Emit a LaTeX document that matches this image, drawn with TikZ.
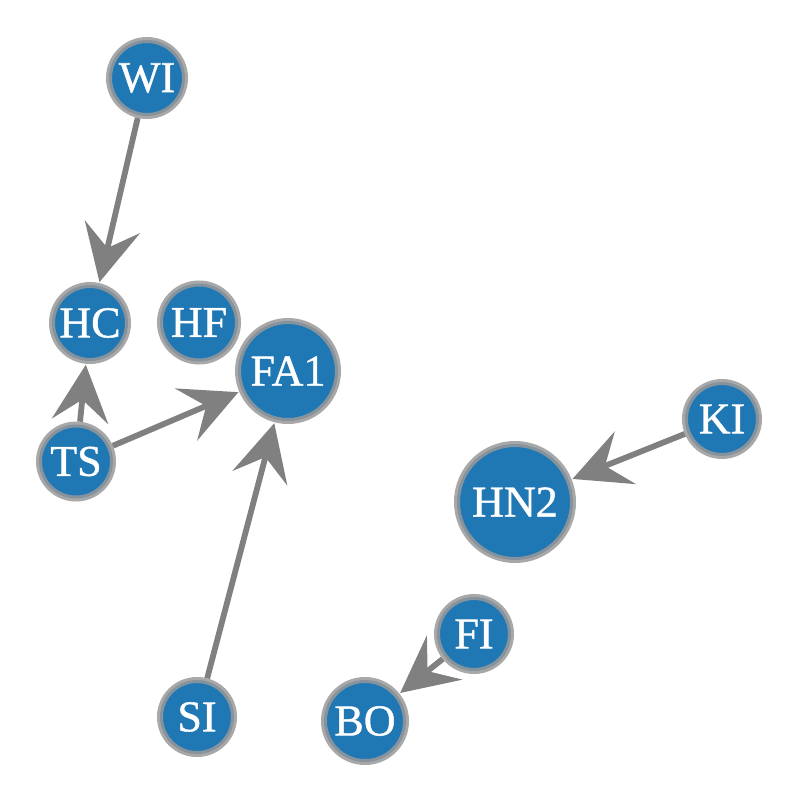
\documentclass[tikz,border=0pt]{standalone}
\usepackage{fontspec}
\setmainfont{Liberation Serif}
\newfontfamily\vtxfont[FakeBold=1.2]{Liberation Serif}
\usetikzlibrary{arrows.meta}
\definecolor{nodeblue}{HTML}{1F77B4}
\definecolor{ringgray}{HTML}{999999}
\definecolor{edgegray}{HTML}{808080}
\pgfdeclarelayer{bg}
\pgfsetlayers{bg,main}
\begin{document}
\begin{tikzpicture}[x=1pt,y=-1pt,
  vtx/.style={circle, fill=nodeblue, draw=ringgray, draw opacity=0.85, line width=6pt,
    text=white, font=\vtxfont\fontsize{44}{44}\selectfont, inner sep=0pt, minimum size=#1},
  link/.style={draw=edgegray, line width=5.8pt,
    -{Stealth[length=57pt,width=57pt,inset=22pt,line width=0pt]}, shorten >=1pt}]
\useasboundingbox (0,0) rectangle (798,800);
\node[vtx=76]  (WI)  at (147,78)    {WI};
\node[vtx=76]  (HC)  at (90,323)    {HC};
\node[vtx=78]  (HF)  at (199,322.5) {HF};
\node[vtx=100] (FA1) at (288,371)   {FA1};
\node[vtx=74]  (TS)  at (76,461.5)  {TS};
\node[vtx=74]  (KI)  at (722,419)   {KI};
\node[vtx=116] (HN2) at (515,502)   {HN2};
\node[vtx=74]  (FI)  at (474,634)   {FI};
\node[vtx=82]  (BO)  at (365,721)   {BO};
\node[vtx=74]  (SI)  at (197,717)   {SI};
\begin{pgfonlayer}{bg}
\fill[white] (0,0) rectangle (798,800);
\draw[link] (WI) -- (HC);
\draw[link] (TS) -- (HC);
\draw[link] (TS) -- (FA1);
\draw[link] (SI) -- (FA1);
\draw[link] (KI) -- (HN2);
\draw[link] (FI) -- (BO);
\end{pgfonlayer}
\end{tikzpicture}
\end{document}
